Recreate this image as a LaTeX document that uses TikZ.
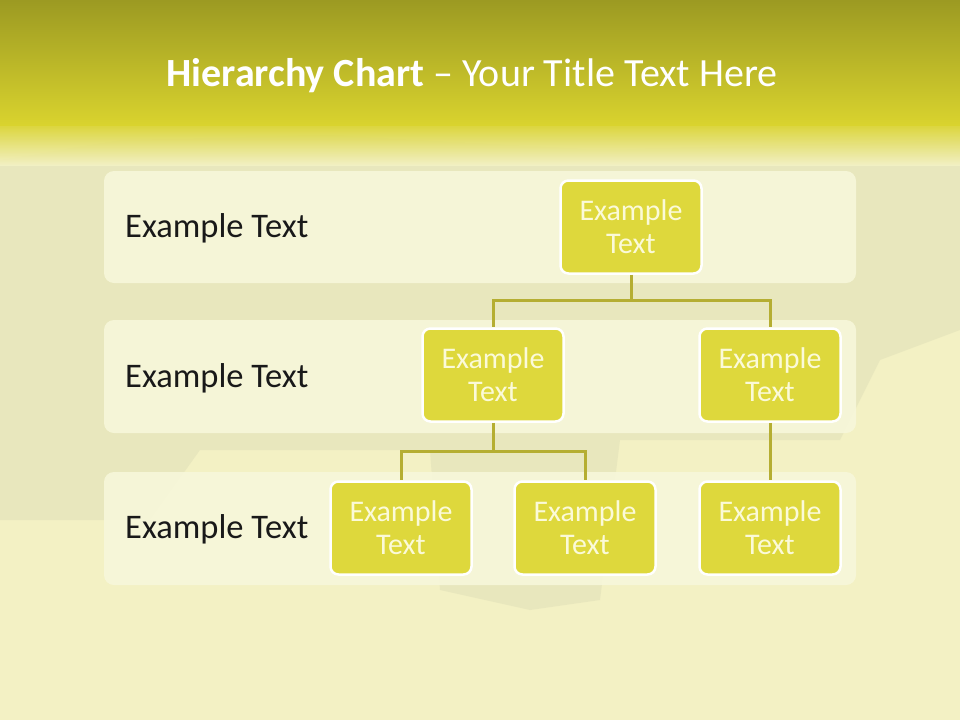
\documentclass[tikz,border=0pt]{standalone}
\usepackage{fontspec}
\setmainfont{Carlito}
\usetikzlibrary{positioning}
\definecolor{bandtop}{HTML}{9C9A22}
\definecolor{bandbot}{HTML}{D9D32E}
\definecolor{paleback}{HTML}{F3F1C4}
\definecolor{leafgray}{HTML}{DCDCB6}
\definecolor{panelfill}{HTML}{F7F7DA}
\definecolor{boxfill}{HTML}{DED83C}
\definecolor{linkcol}{HTML}{B5AE32}
\definecolor{boxtext}{HTML}{FBFAD8}
\tikzset{
  rowpanel/.style={fill=panelfill, rounded corners=10pt, opacity=0.92},
  chartbox/.style={draw=white, line width=2.5pt, fill=boxfill, rounded corners=8pt,
    minimum width=141pt, minimum height=93pt, inner sep=0pt, align=center,
    text=boxtext, font=\fontsize{30}{33}\selectfont},
  rowlabel/.style={anchor=west, inner sep=0pt, text=black!90, font=\fontsize{34.5}{37}\selectfont},
  link/.style={draw=linkcol, line width=3pt}
}
\begin{document}
\begin{tikzpicture}[x=1pt, y=-1pt]
  \useasboundingbox (0,0) rectangle (960,720);
  % background
  \fill[paleback] (0,0) rectangle (960,720);
  \fill[leafgray, opacity=0.45] (0,160) -- (120,140) -- (330,135) -- (600,150) -- (960,140)
    -- (960,330) -- (880,360) -- (840,440) -- (620,440) -- (600,600) -- (530,610)
    -- (440,590) -- (430,450) -- (200,450) -- (150,520) -- (0,520) -- cycle;
  \shade[top color=bandtop, bottom color=bandbot] (0,0) rectangle (960,125);
  \shade[top color=bandbot, bottom color=paleback, opacity=0.9] (0,125) rectangle (960,165);
  % title
  \node[text=white, font=\fontsize{40}{43}\selectfont] (title) at (472,76)
    {\textbf{Hierarchy Chart} -- Your Title Text Here};
  % row panels
  \fill[rowpanel] (104,171) rectangle (856,283);
  \fill[rowpanel] (104,320) rectangle (856,433);
  \fill[rowpanel] (104,472) rectangle (856,585);
  % row labels
  \node[rowlabel] (label1) at (125,228) {Example Text};
  \node[rowlabel] (label2) at (125,378) {Example Text};
  \node[rowlabel] (label3) at (125,529) {Example Text};
  % boxes
  \node[chartbox] (top) at (631,227) {Example\\Text};
  \node[chartbox] (midleft) at (493,375) {Example\\Text};
  \node[chartbox] (midright) at (770,375) {Example\\Text};
  \node[chartbox] (lowleft) at (401,528) {Example\\Text};
  \node[chartbox] (lowmid) at (585,528) {Example\\Text};
  \node[chartbox] (lowright) at (770,528) {Example\\Text};
  % connectors
  \coordinate (fork1) at (631,300);
  \coordinate (fork2) at (493,451);
  \path[link] (top.south) -- (fork1);
  \path[link] (fork1) -| (midleft.north);
  \path[link] (fork1) -| (midright.north);
  \path[link] (midleft.south) -- (fork2);
  \path[link] (fork2) -| (lowleft.north);
  \path[link] (fork2) -| (lowmid.north);
  \path[link] (midright.south) -- (lowright.north);
\end{tikzpicture}
\end{document}
